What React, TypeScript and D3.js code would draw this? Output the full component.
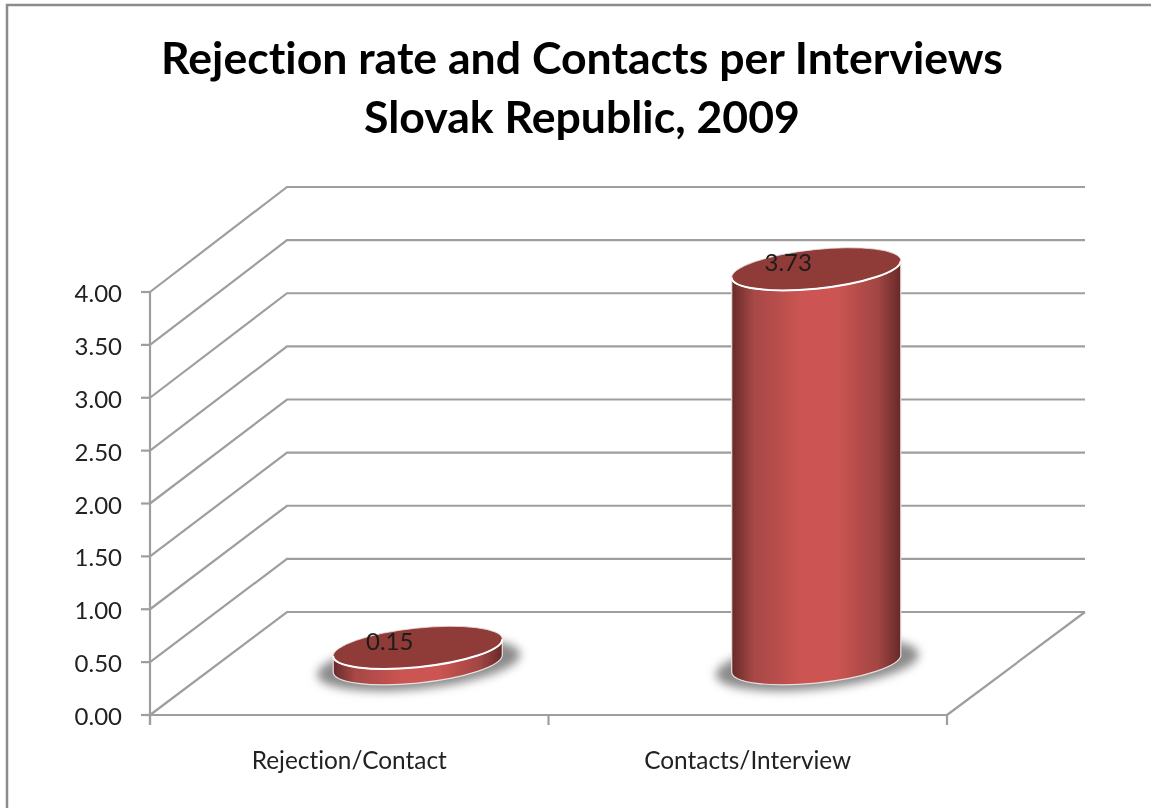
import * as d3 from 'd3'

const WIDTH = 1151
const HEIGHT = 808
const FONT = 'Lato, Carlito, "Open Sans", sans-serif'

const titleLines = ['Rejection rate and Contacts per Interviews', 'Slovak Republic, 2009']
const categories = ['Rejection/Contact', 'Contacts/Interview']
const values = [0.15, 3.73]
const yTicks = [0, 0.5, 1, 1.5, 2, 2.5, 3, 3.5, 4]

// plot box, front edge plus the fake 3d depth offset
const FRONT = {left: 150, right: 947, bottom: 715, top: 292}
const BACK = {left: 287, right: 1085, bottom: 612, top: 187}
const GRID = '#9e9e9e'
const TILT = -6
const RX = 85
const RY = 19.5

const xScale = d3.scaleBand<string>().domain(categories).range([FRONT.left, FRONT.right])
const yScale = d3.scaleLinear().domain([0, 4]).range([FRONT.bottom, FRONT.top])
const yBack = d3.scaleLinear().domain([0, 4]).range([BACK.bottom, BACK.top])

const gridPath = (t: number) => {
  const p = d3.path()
  p.moveTo(FRONT.left, yScale(t))
  p.lineTo(BACK.left, yBack(t))
  p.lineTo(BACK.right, yBack(t))
  return p.toString()
}

// offset from the ellipse centre to the points where the side walls touch it
const tangent = () => {
  const t = (TILT * Math.PI) / 180
  const dx = Math.sqrt(RX * RX * Math.cos(t) ** 2 + RY * RY * Math.sin(t) ** 2)
  const dy = ((RX * RX - RY * RY) * Math.sin(t) * Math.cos(t)) / dx
  return {dx, dy}
}

const Cylinder = ({name, value}: {name: string; value: number}) => {
  const cx = (xScale(name) as number) + xScale.bandwidth() / 2 + (BACK.left - FRONT.left) / 2
  const base = (FRONT.bottom + BACK.bottom) / 2
  const top = base - (yScale(0) - yScale(value))
  const {dx, dy} = tangent()
  const body = [
    `M${cx - dx},${top - dy}`,
    `L${cx - dx},${base - dy}`,
    `A${RX},${RY} ${TILT} 0 0 ${cx + dx},${base + dy}`,
    `L${cx + dx},${top + dy}`,
    `A${RX},${RY} ${TILT} 0 1 ${cx - dx},${top - dy}`,
    'Z',
  ].join(' ')
  const rim = `M${cx - dx},${top - dy} A${RX},${RY} ${TILT} 0 0 ${cx + dx},${top + dy}`

  return (
    <g>
      <ellipse
        cx={cx + 1}
        cy={base + 1}
        rx={RX + 17}
        ry={RY + 5}
        transform={`rotate(${TILT} ${cx + 1} ${base + 1})`}
        fill="#8a8a8a"
        filter="url(#shadowBlur)"
      />
      <path d={body} fill="url(#sideFill)" stroke="#e6e2e2" strokeWidth={1.2} />
      <ellipse
        cx={cx}
        cy={top}
        rx={RX}
        ry={RY}
        transform={`rotate(${TILT} ${cx} ${top})`}
        fill="#8f3a38"
        stroke="#eadcdc"
        strokeWidth={0.8}
      />
      <path d={rim} fill="none" stroke="#fff" strokeWidth={2} />
      <text x={cx - 28} y={top + 2} textAnchor="middle" fontSize={24} fill="#1c1c1c">
        {value.toFixed(2)}
      </text>
    </g>
  )
}

export default function App() {
  return (
    <svg
      width={WIDTH}
      height={HEIGHT}
      fontFamily={FONT}
      style={{position: 'absolute', left: 0, top: 0, background: '#fff', fontVariantLigatures: 'none'}}>
      <defs>
        <linearGradient id="sideFill" x1="0" x2="1" y1="0" y2="0">
          <stop offset="0" stopColor="#682a29" />
          <stop offset="0.13" stopColor="#a64846" />
          <stop offset="0.42" stopColor="#cc5552" />
          <stop offset="0.62" stopColor="#cc5552" />
          <stop offset="0.87" stopColor="#a04543" />
          <stop offset="1" stopColor="#672928" />
        </linearGradient>
        <filter id="shadowBlur" x="-20%" y="-50%" width="140%" height="200%">
          <feGaussianBlur stdDeviation={5} />
        </filter>
        <filter id="softEdge" x="0" y="0" width="100%" height="100%">
          <feGaussianBlur stdDeviation={0.5} />
        </filter>
      </defs>

      <g filter="url(#softEdge)">
        <rect width={WIDTH} height={HEIGHT} fill="#fff" />
        <path d={`M7,${HEIGHT} L7,5 L${WIDTH},5`} fill="none" stroke="#8c8c8c" strokeWidth={2.5} />

        {titleLines.map((line, i) => (
          <text
            key={line}
            x={582}
            y={74 + i * 59}
            textAnchor="middle"
            fontSize={44.6}
            fontWeight={700}
            fill="#000">
            {line}
          </text>
        ))}

        {yTicks.map(t => (
          <g key={t}>
            <path d={gridPath(t)} fill="none" stroke={GRID} strokeWidth={2.2} />
            <line x1={141} x2={FRONT.left} y1={yScale(t)} y2={yScale(t)} stroke={GRID} strokeWidth={2.2} />
            <text x={122} y={yScale(t) + 10} textAnchor="end" fontSize={24} fill="#222">
              {t.toFixed(2)}
            </text>
          </g>
        ))}

        <line x1={FRONT.left} x2={FRONT.left} y1={yScale(4)} y2={725} stroke={GRID} strokeWidth={2.2} />
        <line x1={FRONT.left} x2={FRONT.right} y1={yScale(0)} y2={yScale(0)} stroke={GRID} strokeWidth={2.2} />
        <line x1={FRONT.right} x2={BACK.right} y1={yScale(0)} y2={BACK.bottom} stroke={GRID} strokeWidth={2.2} />
        {[...categories.map(c => xScale(c) as number), FRONT.right].map(x => (
          <line key={x} x1={x} x2={x} y1={yScale(0)} y2={725} stroke={GRID} strokeWidth={2.2} />
        ))}

        {categories.map((c, i) => (
          <g key={c}>
            <Cylinder name={c} value={values[i]} />
            <text
              x={(xScale(c) as number) + xScale.bandwidth() / 2}
              y={769}
              textAnchor="middle"
              fontSize={24.4}
              fill="#222">
              {c}
            </text>
          </g>
        ))}
      </g>
    </svg>
  )
}
